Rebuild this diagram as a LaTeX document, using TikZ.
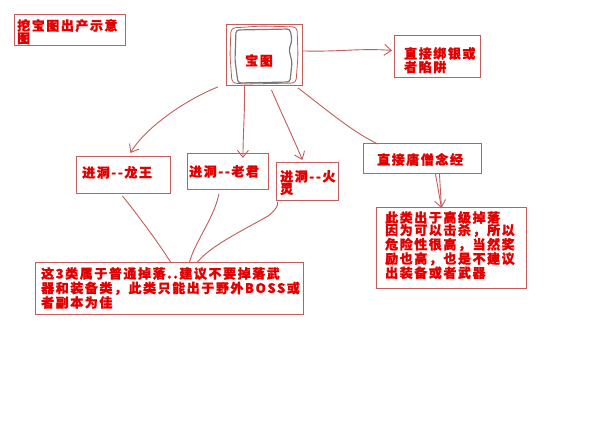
\documentclass[tikz,border=0pt]{standalone}
\usepackage{fontspec}
\newfontfamily\cjk[LetterSpace=12,BoldFeatures={FakeBold=1.2}]{Noto Sans CJK SC}
\usetikzlibrary{arrows.meta}
\definecolor{txtred}{RGB}{226,0,0}
\definecolor{boxred}{RGB}{196,92,92}
\definecolor{pengray}{RGB}{120,120,120}
\tikzset{
  box/.style={draw=boxred, line width=0.9pt, inner sep=0pt, anchor=north west},
  txt/.style={text=txtred, font=\cjk\bfseries\fontsize{13}{12.5}\selectfont, inner sep=0pt, anchor=north west, align=left},
  conn/.style={draw=boxred, line width=0.9pt},
  barb/.style={conn, -{Straight Barb[length=7pt,width=11pt]}}
}
\begin{document}
\begin{tikzpicture}[x=1pt,y=-1pt]
\useasboundingbox (0,0) rectangle (600,434);
\fill[white] (0,0) rectangle (600,434);
% boxes
\node[box, minimum width=111pt, minimum height=31pt] (title) at (14,14) {};
\node[box, minimum width=76pt, minimum height=61pt] (baotu) at (226,24) {};
\node[box, minimum width=86pt, minimum height=42pt] (bangyin) at (394,35) {};
\node[box, minimum width=94pt, minimum height=37pt] (longwang) at (76,156) {};
\node[box, minimum width=81pt, minimum height=36pt] (laojun) at (187,153) {};
\node[box, minimum width=62pt, minimum height=38pt] (huoling) at (276,162) {};
\node[box, minimum width=118pt, minimum height=30pt] (tangseng) at (363,143) {};
\node[box, minimum width=150pt, minimum height=81pt] (gaoji) at (376,207) {};
\node[box, minimum width=268pt, minimum height=52pt] (putong) at (35,262) {};
% hand drawn frame inside baotu
\draw[pengray, line width=1.2pt, rounded corners=3pt] (236,30) -- (290,29) -- (292,40) -- (289,50) -- (292,62) -- (290,82) -- (238,83) -- (235,60) -- cycle;
\draw[boxred, line width=0.8pt, rounded corners=4pt] (231,28) -- (262,26) -- (297,27) -- (298,55) -- (296,83) -- (245,84) -- (232,83) -- (230,55) -- cycle;
% texts
\node[txt] (t-title) at (17,19) {挖宝图出产示意\\图};
\node[txt] (t-baotu) at (245,54) {宝图};
\node[txt] (t-bangyin) at (404,47) {直接绑银或\\者陷阱};
\node[txt] (t-longwang) at (82,166) {进洞-{}-龙王};
\node[txt] (t-laojun) at (189,165) {进洞-{}-老君};
\node[txt] (t-huoling) at (280,170) {进洞-{}-火\\灵};
\node[txt] (t-tangseng) at (377,153) {直接唐僧念经};
\node[txt] (t-gaoji) at (385,211) {此类出于高级掉落\\因为可以击杀，所以\\危险性很高，当然奖\\励也高，也是不建议\\出装备或者武器};
\node[txt, font=\cjk\bfseries\fontsize{13}{14.5}\selectfont] (t-putong) at (41,267) {这3类属于普通掉落..建议不要掉落武\\器和装备类，此类只能出于野外BOSS或\\者副本为佳};
% connectors from baotu
\draw[barb] ([yshift=4pt]baotu.east) .. controls (340,52) and (360,48) .. ([xshift=-2pt,yshift=6pt]bangyin.west);
\draw[barb] ([xshift=-8pt,yshift=-1pt]baotu.south west) .. controls (185,100) and (145,128) .. ([xshift=7pt,yshift=3pt]longwang.north);
\draw[barb] ([xshift=-20pt]baotu.south) .. controls (245,110) and (243,135) .. ([xshift=15pt,yshift=-5pt]laojun.north);
\draw[barb] ([xshift=7pt,yshift=-4pt]baotu.south) .. controls (280,110) and (292,135) .. ([xshift=-5pt,yshift=2pt]huoling.north);
\draw[conn] ([xshift=-5pt,yshift=-2pt]baotu.south east) .. controls (322,106) and (352,132) .. ([xshift=15pt,yshift=-1pt]tangseng.north west);
% tangseng to gaoji
\draw[barb] ([xshift=13pt]tangseng.south) -- ([xshift=-10pt,yshift=-1pt]gaoji.north);
\draw[conn] ([xshift=17pt]tangseng.south) -- ([xshift=-10pt,yshift=-1pt]gaoji.north);
% three to putong
\draw[conn] ([xshift=-1pt,yshift=-2pt]longwang.south) .. controls (140,218) and (160,245) .. ([xshift=1pt]putong.north);
\draw[conn] ([xshift=-9pt,yshift=-4pt]laojun.south) .. controls (214,218) and (196,240) .. ([xshift=20pt]putong.north);
\draw[conn] ([xshift=-30pt,yshift=-1pt]huoling.south) .. controls (279,204) and (276,210) .. (268,216) .. controls (240,232) and (212,245) .. ([xshift=28pt]putong.north);
\end{tikzpicture}
\end{document}
